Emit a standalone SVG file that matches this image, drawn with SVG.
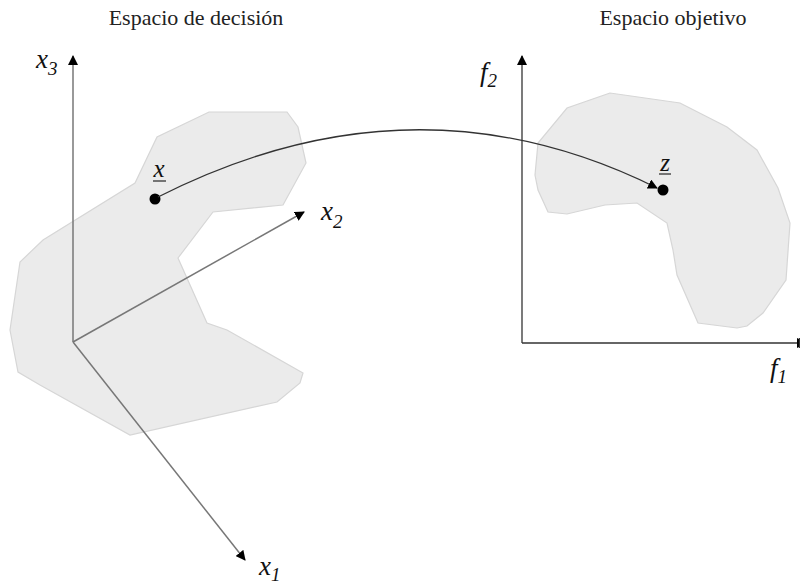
<svg xmlns="http://www.w3.org/2000/svg" width="800" height="584" viewBox="0 0 800 584">
<style>
.title{font-family:"Liberation Serif","DejaVu Serif",serif;font-size:22px;fill:#222}
.lab{font-family:"Liberation Serif","DejaVu Serif",serif;font-style:italic;font-size:27px;fill:#111}
.sub{font-size:19px}
.pl{font-family:"Liberation Serif","DejaVu Serif",serif;font-style:italic;font-size:25px;fill:#111}
.blob{fill:#ebebeb;stroke:#d6d6d6;stroke-width:1.2}
.axl{stroke:#777;stroke-width:1.5;fill:none}
.axr{stroke:#333;stroke-width:1.3;fill:none}
</style>
<defs>
<marker id="ah" viewBox="0 0 10 10" refX="9" refY="5" markerWidth="10" markerHeight="10" markerUnits="userSpaceOnUse" orient="auto">
<path d="M0,0 L10,5 L0,10 z" fill="#000"/>
</marker>
</defs>
<rect width="800" height="584" fill="#fff"/>
<g id="decision-space">
<polygon class="blob" points="209,112 287,112 298,127 306,163 283,205 213,212 178,258 207,323 227,330 303,373 300,383 277,402 130,435 40,385 18,372 10,330 20,262 43,240 135,183 157,137"/>
<line class="axl" x1="73" y1="342" x2="73" y2="56" marker-end="url(#ah)"/>
<line class="axl" x1="73" y1="342" x2="304" y2="212" marker-end="url(#ah)"/>
<line class="axl" x1="73" y1="342" x2="245" y2="560" marker-end="url(#ah)"/>
<text class="title" x="196" y="25" text-anchor="middle">Espacio de decisión</text>
<text class="lab" x="36" y="68">x<tspan class="sub" dy="7">3</tspan></text>
<text class="lab" x="321" y="220">x<tspan class="sub" dy="8">2</tspan></text>
<text class="lab" x="259" y="575">x<tspan class="sub" dy="6">1</tspan></text>
</g>
<g id="objective-space">
<polygon class="blob" points="610,93 567,108 538,143 535,175 538,190 548,212 567,214 605,205 637,203 667,223 673,250 677,275 698,323 737,328 747,326 763,313 786,280 790,223 778,188 757,150 727,127 680,103"/>
<line class="axr" x1="522" y1="343" x2="522" y2="56" marker-end="url(#ah)"/>
<line class="axr" x1="522" y1="343" x2="806" y2="343" marker-end="url(#ah)"/>
<line x1="799.5" y1="338" x2="799.5" y2="348" stroke="#333" stroke-width="1.3"/>
<text class="title" x="673" y="25" text-anchor="middle">Espacio objetivo</text>
<text class="lab" x="480" y="81">f<tspan class="sub" dy="6">2</tspan></text>
<text class="lab" x="770" y="377">f<tspan class="sub" dy="6">1</tspan></text>
</g>
<g id="point-x">
<circle cx="155" cy="199" r="5.5" fill="#000"/>
<text class="pl" x="159" y="177" text-anchor="middle">x</text>
<line x1="153" y1="181" x2="166" y2="181" stroke="#333" stroke-width="1.3"/>
</g>
<g id="point-z">
<circle cx="663" cy="190" r="5.5" fill="#000"/>
<text class="pl" x="665" y="171" text-anchor="middle">z</text>
<line x1="659" y1="174" x2="671" y2="174" stroke="#333" stroke-width="1.3"/>
</g>
<g id="connectors">
<path d="M158,197 C300,125 470,95 657,188" fill="none" stroke="#333" stroke-width="1.3" marker-end="url(#ah)"/>
</g>
</svg>
